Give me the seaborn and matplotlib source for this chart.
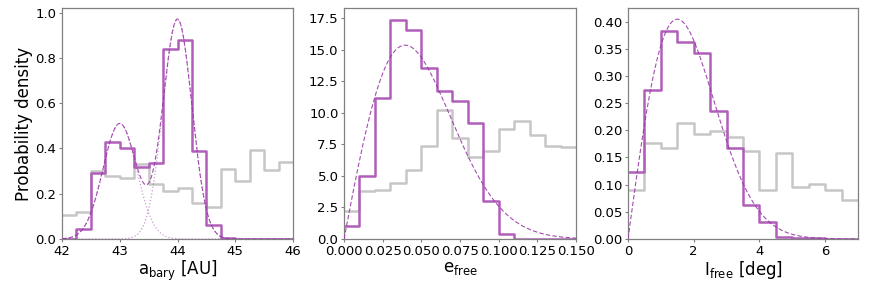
import numpy as np
import pandas as pd
import matplotlib
matplotlib.use("Agg")
import matplotlib.pyplot as plt
import seaborn as sns

sns.set_style("white")
plt.rcParams['font.family'] = ['DejaVu Sans']
plt.rcParams['text.color'] = 'black'
plt.rcParams['axes.labelcolor'] = 'black'
plt.rcParams['xtick.color'] = 'black'
plt.rcParams['ytick.color'] = 'black'

# ---- data: panel 1 (a_bary, bins of 0.25 AU from 42 to 46)
a_edges = [42.0, 42.25, 42.5, 42.75, 43.0, 43.25, 43.5, 43.75, 44.0, 44.25,
           44.5, 44.75, 45.0, 45.25, 45.5, 45.75, 46.0]
a_purple = [0.0, 0.045, 0.29, 0.43, 0.40, 0.32, 0.335, 0.84, 0.88, 0.39,
            0.06, 0.005, 0.0, 0.0, 0.0, 0.0]
a_gray = [0.105, 0.12, 0.30, 0.28, 0.27, 0.33, 0.245, 0.21, 0.225, 0.16,
          0.14, 0.31, 0.255, 0.395, 0.305, 0.34]
# Gaussian components: (mean, sigma, peak)
g1 = (43.0, 0.29, 0.51)
g2 = (44.0, 0.25, 0.97)

# ---- panel 2 (e_free, bins of 0.01)
e_edges = [0.0, 0.01, 0.02, 0.03, 0.04, 0.05, 0.06, 0.07, 0.08, 0.09, 0.10,
           0.11, 0.12, 0.13, 0.14, 0.15]
e_purple = [1.0, 5.0, 11.15, 17.35, 16.55, 13.55, 11.75, 10.95, 9.2, 3.0,
            0.4, 0.0, 0.0, 0.0, 0.0]
e_gray = [2.2, 3.8, 3.85, 4.4, 5.45, 7.4, 10.2, 8.0, 6.5, 6.95, 8.75, 9.35,
          8.2, 7.4, 7.3]
e_sigma = 0.0395

# ---- panel 3 (I_free, bins of 0.5 deg)
i_edges = [0.0, 0.5, 1.0, 1.5, 2.0, 2.5, 3.0, 3.5, 4.0, 4.5, 5.0, 5.5, 6.0,
           6.5, 7.0]
i_purple = [0.123, 0.275, 0.383, 0.363, 0.343, 0.235, 0.168, 0.063, 0.031,
            0.003, 0.002, 0.002, 0.0, 0.0]
i_gray = [0.091, 0.177, 0.168, 0.213, 0.193, 0.198, 0.188, 0.162, 0.091,
          0.158, 0.096, 0.101, 0.091, 0.071]
i_sigma = 1.5

PURPLE = "#b15eba"
GRAY = "#c6c6c6"
CURVE = "#9a3aa8"

fig = plt.figure(figsize=(8.71, 2.86), dpi=100)
W, H = 871, 286
boxes = [(62, 8, 231, 231), (344, 8, 232, 231), (628, 8, 230, 231)]
axes = [fig.add_axes([x / W, 1 - (y + h) / H, w / W, h / H]) for x, y, w, h in boxes]


def hist(ax, edges, vals, color, alpha, lw, z):
    e = np.asarray(edges, dtype=float)
    centers = list((e[:-1] + e[1:]) / 2)
    df = pd.DataFrame({"x": centers, "w": list(vals)})
    sns.histplot(data=df, x="x", weights="w", bins=list(edges), element="step",
                 fill=False, color=color, alpha=alpha, linewidth=lw, ax=ax,
                 zorder=z)


def gauss(x, m, s, p):
    return p * np.exp(-(x - m) ** 2 / (2 * s ** 2))


def rayleigh(x, s):
    return x / s ** 2 * np.exp(-x ** 2 / (2 * s ** 2))


# panel 1
ax = axes[0]
hist(ax, a_edges, a_gray, GRAY, 1.0, 1.8, 1)
hist(ax, a_edges, a_purple, PURPLE, 1.0, 1.8, 2)
xa = np.linspace(42, 46, 600)
ya1 = gauss(xa, *g1)
ya2 = gauss(xa, *g2)
sns.lineplot(x=xa, y=ya1, ax=ax, color=CURVE, alpha=0.5, lw=0.9, linestyle=":", zorder=3)
sns.lineplot(x=xa, y=ya2, ax=ax, color=CURVE, alpha=0.5, lw=0.9, linestyle=":", zorder=3)
sns.lineplot(x=xa, y=ya1 + ya2, ax=ax, color=CURVE, alpha=0.9, lw=0.8,
             linestyle=(0, (4, 2)), zorder=3)
ax.set_xlim(42, 46)
ax.set_ylim(0, 1.02)
ax.set_xticks([42, 43, 44, 45, 46])
ax.set_yticks([0.0, 0.2, 0.4, 0.6, 0.8, 1.0])
ax.set_xlabel(r"$\mathregular{a_{bary}}$ [AU]", fontsize=12, labelpad=1)
ax.set_ylabel("Probability density", fontsize=12, labelpad=2)

# panel 2
ax = axes[1]
hist(ax, e_edges, e_gray, GRAY, 1.0, 1.8, 1)
hist(ax, e_edges, e_purple, PURPLE, 1.0, 1.8, 2)
xe = np.linspace(0, 0.15, 600)
sns.lineplot(x=xe, y=rayleigh(xe, e_sigma), ax=ax, color=CURVE, alpha=0.9, lw=0.8,
             linestyle=(0, (4, 2)), zorder=3)
ax.set_xlim(0, 0.15)
ax.set_ylim(0, 18.3)
ax.set_xticks([0.0, 0.025, 0.05, 0.075, 0.1, 0.125, 0.15])
ax.set_xticklabels(["0.000", "0.025", "0.050", "0.075", "0.100", "0.125", "0.150"])
ax.set_yticks([0, 2.5, 5, 7.5, 10, 12.5, 15, 17.5])
ax.set_yticklabels(["0.0", "2.5", "5.0", "7.5", "10.0", "12.5", "15.0", "17.5"])
ax.set_xlabel(r"$\mathregular{e_{free}}$", fontsize=12, labelpad=1)
ax.set_ylabel("")

# panel 3
ax = axes[2]
hist(ax, i_edges, i_gray, GRAY, 1.0, 1.8, 1)
hist(ax, i_edges, i_purple, PURPLE, 1.0, 1.8, 2)
xi = np.linspace(0, 7, 600)
sns.lineplot(x=xi, y=rayleigh(xi, i_sigma), ax=ax, color=CURVE, alpha=0.9, lw=0.8,
             linestyle=(0, (4, 2)), zorder=3)
ax.set_xlim(0, 7)
ax.set_ylim(0, 0.425)
ax.set_xticks([0, 2, 4, 6])
ax.set_yticks([0, 0.05, 0.10, 0.15, 0.20, 0.25, 0.30, 0.35, 0.40])
ax.set_yticklabels(["0.00", "0.05", "0.10", "0.15", "0.20", "0.25", "0.30", "0.35", "0.40"])
ax.set_xlabel(r"$\mathregular{I_{free}}$ [deg]", fontsize=12, labelpad=1)
ax.set_ylabel("")

for ax in axes:
    for sp in ax.spines.values():
        sp.set_color("#808080")
        sp.set_linewidth(0.9)
    ax.tick_params(axis="both", which="major", labelsize=9.5, length=2.5,
                   width=0.8, color="#808080", labelcolor="black", pad=1.5,
                   direction="out", bottom=True, left=True)

fig.savefig("out.png", dpi=100)
